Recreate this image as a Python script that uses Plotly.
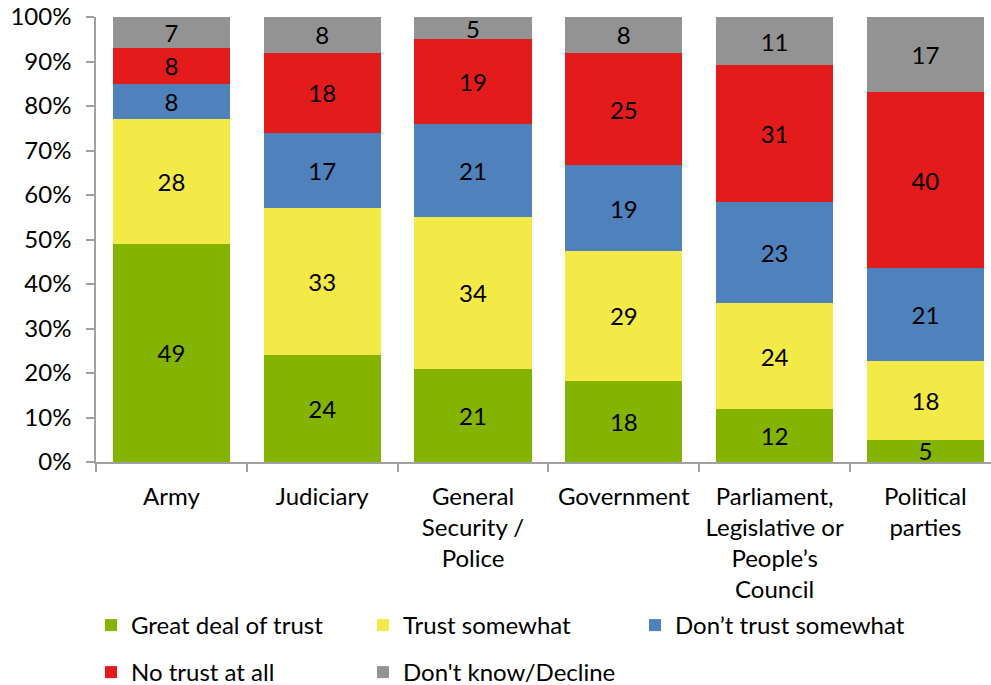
import plotly.graph_objects as go

# Institutions (x categories)
categories = [
    "Army",
    "Judiciary",
    "General<br>Security /<br>Police",
    "Government",
    "Parliament,<br>Legislative or<br>People\u2019s<br>Council",
    "Political<br>parties",
]

# Share of respondents per answer, stacked bottom to top
great_deal = [49, 24, 21, 18, 12, 5]
somewhat = [28, 33, 34, 29, 24, 18]
dont_trust_somewhat = [8, 17, 21, 19, 23, 21]
no_trust = [8, 18, 19, 25, 31, 40]
dont_know = [7, 8, 5, 8, 11, 17]

# Percent axis labels
y_ticks = [0, 10, 20, 30, 40, 50, 60, 70, 80, 90, 100]
y_tick_labels = [f"{v}%" for v in y_ticks]

series = [
    ("Great deal of trust", great_deal, "#84B400", "legend"),
    ("Trust somewhat", somewhat, "#F3E947", "legend"),
    ("Don\u2019t trust somewhat", dont_trust_somewhat, "#4F81BD", "legend"),
    ("No trust at all", no_trust, "#E41B1B", "legend2"),
    ("Don't know/Decline", dont_know, "#939393", "legend2"),
]

FONT = "Lato"
FS = 24

fig = go.Figure()
for name, vals, color, leg in series:
    fig.add_trace(go.Bar(
        x=categories,
        y=vals,
        name=name,
        marker=dict(color=color, line=dict(width=0)),
        text=[str(v) for v in vals],
        textposition="inside",
        insidetextanchor="middle",
        textangle=0,
        constraintext="none",
        textfont=dict(family=FONT, size=FS, color="black"),
        legend=leg,
        hoverinfo="skip",
    ))

axis_gray = "#A0A0A0"
legend_common = dict(
    orientation="h",
    xref="container", yref="container",
    xanchor="left", yanchor="top",
    entrywidth=227, entrywidthmode="pixels",
    font=dict(family=FONT, size=FS),
    bgcolor="rgba(0,0,0,0)",
    traceorder="normal",
)

fig.update_layout(
    width=991,
    height=685,
    barmode="stack",
    barnorm="percent",
    bargap=0.224,
    plot_bgcolor="white",
    paper_bgcolor="white",
    margin=dict(l=96, r=0, t=17, b=223),
    font=dict(family=FONT, size=FS, color="black"),
    xaxis=dict(
        range=[-0.5, 5.435],
        showline=True, linecolor=axis_gray, linewidth=1.5,
        ticks="outside", tickson="boundaries", ticklen=8, tickcolor=axis_gray, tickwidth=1.5,
        ticklabelstandoff=12,
        showgrid=False, zeroline=False,
        tickfont=dict(family=FONT, size=FS),
        fixedrange=True,
    ),
    yaxis=dict(
        range=[0, 100],
        tickmode="array",
        tickvals=y_ticks,
        ticktext=y_tick_labels,
        showline=True, linecolor=axis_gray, linewidth=1.5,
        ticks="outside", ticklen=8, tickcolor=axis_gray, tickwidth=1.5,
        ticklabelstandoff=10,
        showgrid=False, zeroline=False,
        tickfont=dict(family=FONT, size=FS),
        fixedrange=True,
    ),
    legend=dict(legend_common, x=91 / 991, y=1 - 603 / 685),
    legend2=dict(legend_common, x=91 / 991, y=1 - 650 / 685),
    showlegend=True,
)

fig.write_html("out.html")
